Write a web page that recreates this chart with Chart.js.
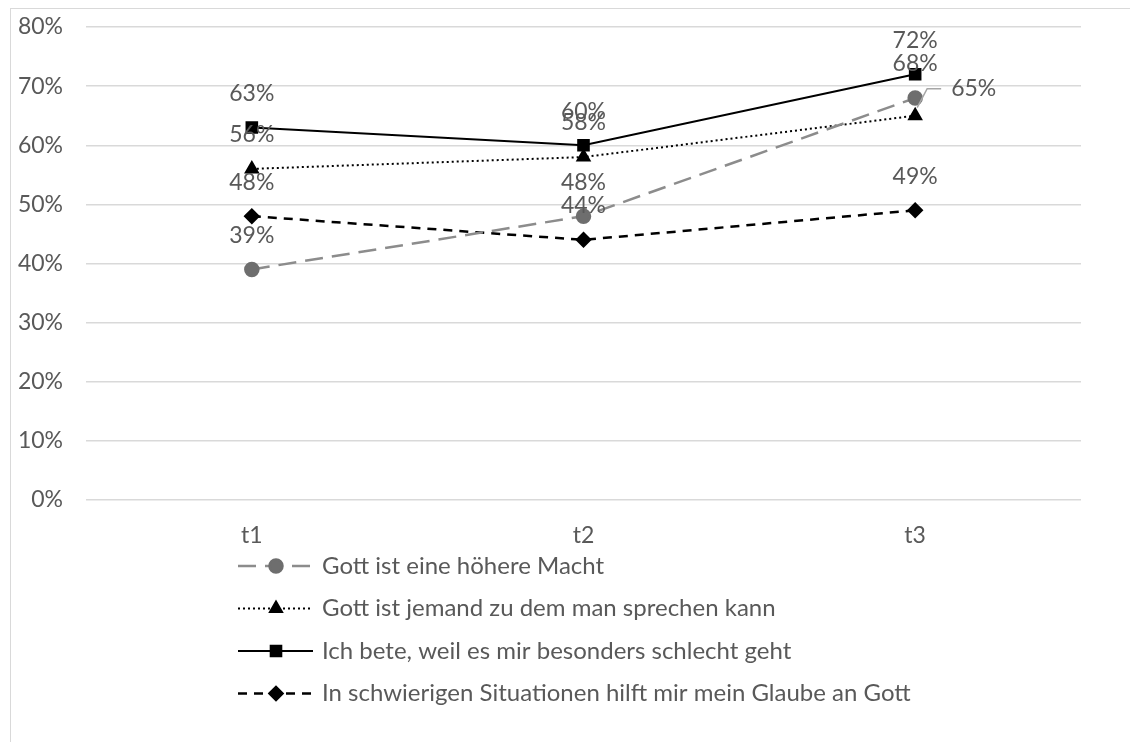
<!DOCTYPE html>
<html>
<head>
<meta charset="utf-8">
<script src="https://cdn.jsdelivr.net/npm/chart.js@4"></script>
<style>
  body { margin: 0; background: #fff; }
  #frame { position: absolute; left: 10px; top: 8px; width: 1120px; height: 734px;
           border-top: 1px solid #d9d9d9; border-left: 1px solid #d9d9d9; }
  #wrap { position: absolute; left: 0; top: 0; width: 1130px; height: 742px; }
</style>
</head>
<body>
<div id="frame"></div>
<div id="wrap"><canvas id="myChart" width="1130" height="742"></canvas></div>
<script>
// categories
var labels = ['t1', 't2', 't3'];

// series values (percent)
var hoehereMacht = [39, 48, 68];
var jemandSprechen = [56, 58, 65];
var beteSchlecht = [63, 60, 72];
var schwierigeSituationen = [48, 44, 49];

var seriesNames = [
    'Gott ist eine höhere Macht',
    'Gott ist jemand zu dem man sprechen kann',
    'Ich bete, weil es mir besonders schlecht geht',
    'In schwierigen Situationen hilft mir mein Glaube an Gott'
];

// y tick values
var yTicks = [0, 10, 20, 30, 40, 50, 60, 70, 80];

var FONT = 'Lato';
var TEXT = '#595959';

// draws value labels above the points, plus the bottom legend
var labelPlugin = {
    id: 'labelPlugin',
    afterDatasetsDraw: function(chart) {
        var ctx = chart.ctx;
        ctx.save();
        ctx.font = '23px ' + FONT;
        ctx.fillStyle = TEXT;
        ctx.textAlign = 'center';
        ctx.textBaseline = 'middle';
        chart.data.datasets.forEach(function(ds, i) {
            var meta = chart.getDatasetMeta(i);
            meta.data.forEach(function(pt, j) {
                var txt = ds.data[j] + '%';
                if (i == 1 && j == 2) {
                    // this one was moved out to the right with a leader line
                    ctx.strokeStyle = '#a6a6a6';
                    ctx.lineWidth = 1.5;
                    ctx.beginPath();
                    ctx.moveTo(pt.x + 2, pt.y - 8);
                    ctx.lineTo(pt.x + 12, pt.y - 27);
                    ctx.lineTo(pt.x + 26, pt.y - 27);
                    ctx.stroke();
                    ctx.textAlign = 'left';
                    ctx.fillText(txt, pt.x + 36, pt.y - 27);
                    ctx.textAlign = 'center';
                } else {
                    ctx.fillText(txt, pt.x, pt.y - 34);
                }
            });
        });
        ctx.restore();
    },
    afterDraw: function(chart) {
        var ctx = chart.ctx;
        var x0 = 238, x1 = 313, xm = 276, y0 = 566, step = 42.5;
        ctx.save();
        chart.data.datasets.forEach(function(ds, i) {
            var y = y0 + i * step;
            ctx.strokeStyle = ds.borderColor;
            ctx.lineWidth = ds.borderWidth;
            ctx.setLineDash(ds.borderDash || []);
            ctx.beginPath();
            ctx.moveTo(x0, y);
            ctx.lineTo(x1, y);
            ctx.stroke();
            ctx.setLineDash([]);
            ctx.fillStyle = ds.pointBackgroundColor;
            ctx.strokeStyle = ds.pointBorderColor;
            Chart.helpers.drawPoint(ctx, {
                pointStyle: ds.pointStyle,
                radius: ds.pointRadius,
                borderWidth: 1,
                rotation: 0
            }, xm, y);
            ctx.font = '24px ' + FONT;
            ctx.fillStyle = TEXT;
            ctx.textAlign = 'left';
            ctx.textBaseline = 'middle';
            ctx.fillText(ds.label, 322, y);
        });
        ctx.restore();
    }
};

var ctx = document.getElementById('myChart').getContext('2d');
var chart = new Chart(ctx, {
    type: 'line',
    data: {
        labels: labels,
        datasets: [{
            label: seriesNames[0],
            data: hoehereMacht,
            borderColor: '#8c8c8c',
            borderWidth: 2.5,
            borderDash: [18, 9],
            pointStyle: 'circle',
            pointRadius: 6.5,
            pointBackgroundColor: '#6e6e6e',
            pointBorderColor: '#6e6e6e'
        }, {
            label: seriesNames[1],
            data: jemandSprechen,
            borderColor: '#000',
            borderWidth: 2,
            borderDash: [2, 3],
            pointStyle: 'triangle',
            pointRadius: 7,
            pointBackgroundColor: '#000',
            pointBorderColor: '#000'
        }, {
            label: seriesNames[2],
            data: beteSchlecht,
            borderColor: '#000',
            borderWidth: 2,
            pointStyle: 'rect',
            pointRadius: 7.5,
            pointBackgroundColor: '#000',
            pointBorderColor: '#000'
        }, {
            label: seriesNames[3],
            data: schwierigeSituationen,
            borderColor: '#000',
            borderWidth: 2.5,
            borderDash: [9, 7],
            pointStyle: 'rectRot',
            pointRadius: 6.5,
            pointBackgroundColor: '#000',
            pointBorderColor: '#000'
        }]
    },
    options: {
        responsive: false,
        animation: false,
        tension: 0,
        layout: { autoPadding: false, padding: { left: 0, top: 27, right: 49, bottom: 192 } },
        plugins: {
            legend: { display: false },
            tooltip: { enabled: false }
        },
        scales: {
            x: {
                offset: true,
                grid: { display: false, drawTicks: false },
                border: { display: false },
                ticks: { color: TEXT, font: { family: FONT, size: 23 }, padding: 22 },
                afterFit: function(scale) {
                    scale.height = 50;
                    scale.paddingLeft = 0;
                    scale.paddingRight = 0;
                }
            },
            y: {
                min: 0,
                max: 80,
                afterBuildTicks: function(scale) {
                    scale.ticks = yTicks.map(function(v) { return { value: v }; });
                },
                grid: { color: '#d9d9d9', lineWidth: 1.5, drawTicks: false },
                border: { display: false },
                ticks: {
                    color: TEXT,
                    font: { family: FONT, size: 23 },
                    padding: 23,
                    callback: function(v) { return v + '%'; }
                },
                afterFit: function(scale) {
                    scale.width = 86;
                    scale.paddingTop = 0;
                    scale.paddingBottom = 0;
                }
            }
        }
    },
    plugins: [labelPlugin]
});
</script>
</body>
</html>
